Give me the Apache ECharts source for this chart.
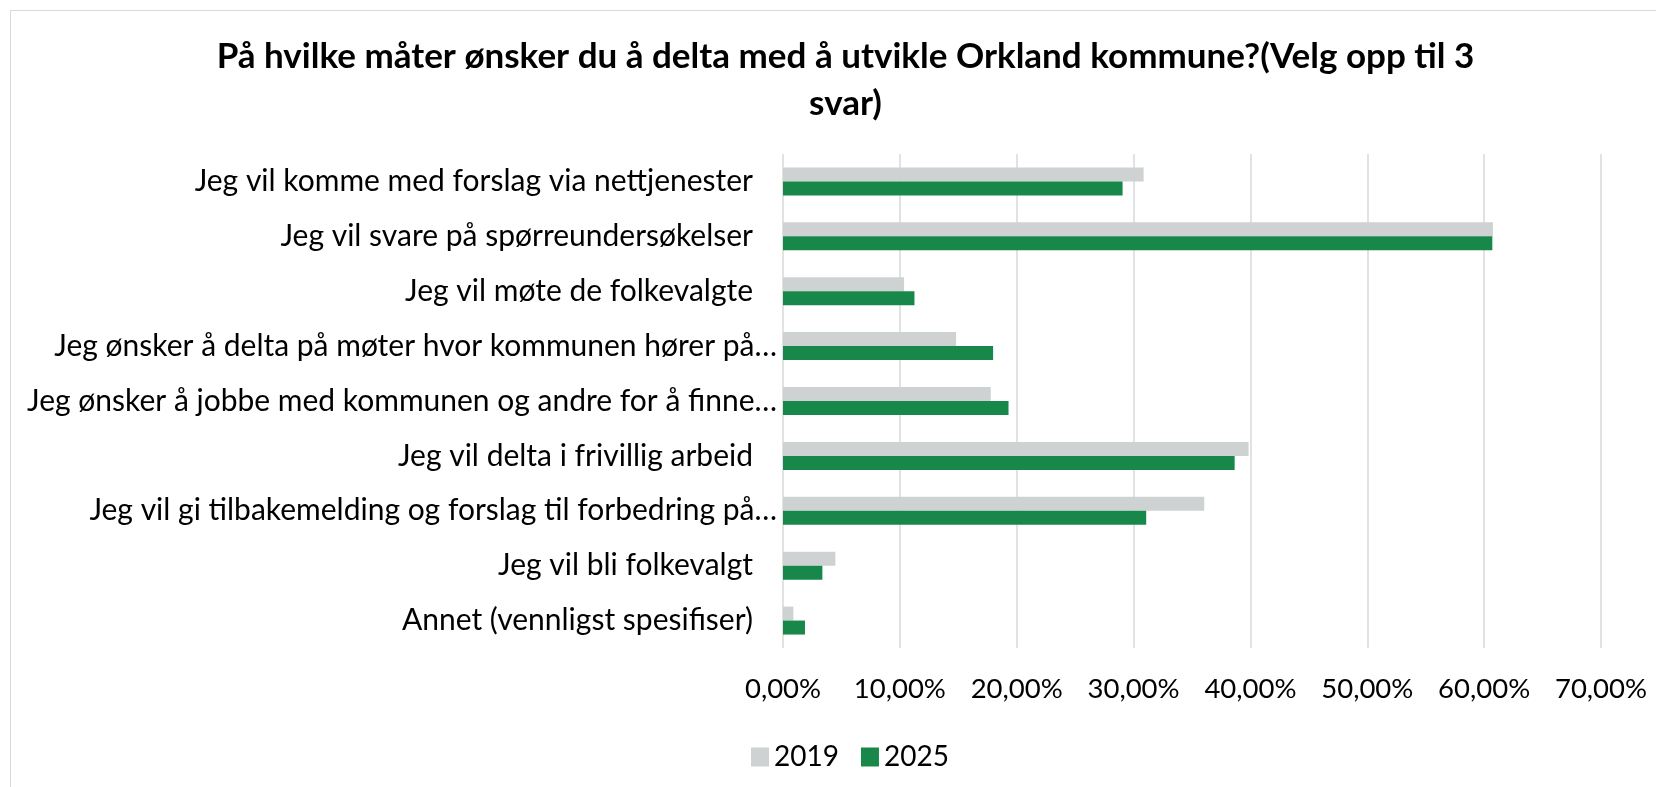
<!DOCTYPE html>
<html style="height: 100%">
<head>
<meta charset="utf-8">
<title>Orkland kommune</title>
<script src="https://cdn.jsdelivr.net/npm/echarts@6/dist/echarts.min.js"></script>
</head>
<body style="height: 100%; margin: 0; overflow: hidden; background: #fff">
<div id="container" style="position: absolute; left: 10px; top: 10px; width: 1670px; height: 800px; border-left: 1.5px solid #d9d9d9; border-top: 1.5px solid #d9d9d9; box-sizing: border-box"></div>
<script type="text/javascript">
var categories = [
    "Jeg vil komme med forslag via nettjenester",
    "Jeg vil svare på spørreundersøkelser",
    "Jeg vil møte de folkevalgte",
    "Jeg ønsker å delta på møter hvor kommunen hører på…",
    "Jeg ønsker å jobbe med kommunen og andre for å finne…",
    "Jeg vil delta i frivillig arbeid",
    "Jeg vil gi tilbakemelding og forslag til forbedring på…",
    "Jeg vil bli folkevalgt",
    "Annet (vennligst spesifiser)"
];
var values2019 = [30.86, 60.75, 10.36, 14.81, 17.78, 39.84, 36.05, 4.48, 0.89];
var values2025 = [29.06, 60.70, 11.25, 17.98, 19.30, 38.65, 31.08, 3.37, 1.88];
var tickValues = [0, 10, 20, 30, 40, 50, 60, 70];

var font = 'Lato';
var dom = document.getElementById("container");
var myChart = echarts.init(dom);

var option = {
    backgroundColor: '#fff',
    animation: false,
    title: {
        text: 'På hvilke måter ønsker du å delta med å utvikle Orkland kommune?(Velg opp til 3\nsvar)',
        left: 'center',
        top: 17,
        textStyle: {
            fontFamily: font,
            fontSize: 35,
            fontWeight: 'bold',
            color: '#000',
            lineHeight: 47
        }
    },
    legend: {
        data: ['2019', '2025'],
        left: 735,
        top: 727,
        itemWidth: 18,
        itemHeight: 19,
        itemGap: 22,
        icon: 'rect',
        textStyle: {
            fontFamily: font,
            fontSize: 28,
            color: '#000'
        }
    },
    grid: {
        left: 772,
        top: 143,
        width: 818,
        height: 494,
        outerBoundsMode: 'none'
    },
    xAxis: {
        type: 'value',
        min: tickValues[0],
        max: tickValues[tickValues.length - 1],
        interval: 10,
        axisLine: {show: false},
        axisTick: {show: false},
        splitLine: {lineStyle: {color: '#d9d9d9', width: 1.5}},
        axisLabel: {
            margin: 27,
            fontFamily: font,
            fontSize: 27.5,
            color: '#000',
            formatter: function (v) {
                return v.toFixed(2).replace('.', ',') + '%';
            }
        }
    },
    yAxis: {
        type: 'category',
        inverse: true,
        data: categories,
        axisLine: {show: false},
        axisTick: {show: false},
        axisLabel: {
            margin: 6,
            fontFamily: font,
            fontSize: 30,
            color: '#000',
            formatter: function (v) {
                return v.charAt(v.length - 1) === '…' ? v : '{p|' + v + '}';
            },
            rich: {
                p: {
                    fontFamily: font,
                    fontSize: 30,
                    color: '#000',
                    padding: [0, 24, 0, 0]
                }
            }
        }
    },
    series: [
        {
            name: '2019',
            type: 'bar',
            data: values2019,
            barWidth: 14,
            barGap: '0%',
            itemStyle: {color: '#cfd2d3'}
        },
        {
            name: '2025',
            type: 'bar',
            data: values2025,
            barWidth: 14,
            itemStyle: {color: '#18884a'}
        }
    ]
};
myChart.setOption(option, true);
</script>
</body>
</html>
